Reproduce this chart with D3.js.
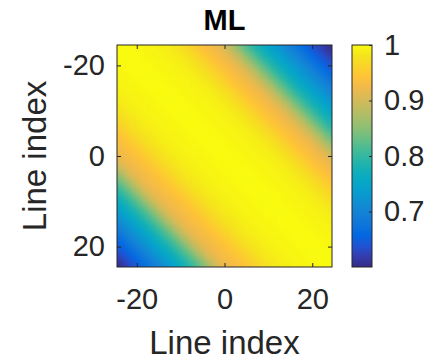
<!DOCTYPE html>
<html>
<head>
<meta charset="utf-8">
<script src="https://cdn.jsdelivr.net/npm/d3@7"></script>
<style>
	body { margin: 0; background: #fff; }
	text { font-family: "Liberation Sans", Arial, Helvetica, sans-serif; }
</style>
</head>
<body>
<svg id="svgContainer" width="426" height="360"></svg>
<script>
// line indices shown on both axes
var lines = d3.range(-24, 25),
	xTicks = [-20, 0, 20],
	yTicks = [-20, 0, 20],
	cTicks = [0.7, 0.8, 0.9, 1],
	cRange = [0.6, 1],
	// value per line offset (column - row)
	upperProfile = [1.000, 0.999, 0.999, 0.998, 0.997, 0.996, 0.995, 0.994, 0.993, 0.992,
		0.990, 0.988, 0.985, 0.981, 0.976, 0.970, 0.963, 0.955, 0.947, 0.940,
		0.934, 0.929, 0.923, 0.914, 0.902, 0.887, 0.870, 0.852, 0.834, 0.817,
		0.801, 0.787, 0.774, 0.761, 0.749, 0.738, 0.728, 0.717, 0.706, 0.695,
		0.684, 0.673, 0.662, 0.651, 0.641, 0.631, 0.621, 0.612, 0.604],
	lowerProfile = [1.000, 0.999, 0.999, 0.998, 0.997, 0.996, 0.995, 0.994, 0.993, 0.992,
		0.990, 0.988, 0.986, 0.983, 0.979, 0.974, 0.968, 0.961, 0.953, 0.946,
		0.940, 0.935, 0.931, 0.927, 0.921, 0.912, 0.899, 0.882, 0.862, 0.842,
		0.824, 0.808, 0.793, 0.779, 0.766, 0.753, 0.740, 0.728, 0.716, 0.704,
		0.692, 0.681, 0.670, 0.659, 0.648, 0.637, 0.626, 0.615, 0.604],
	// parula, every third entry of the 64 colour table
	parula = [[0.2081,0.1663,0.5292],[0.2081,0.2386,0.6771],[0.1253,0.3242,0.8303],
		[0.0060,0.4086,0.8828],[0.0498,0.4586,0.8641],[0.0779,0.5040,0.8384],
		[0.0641,0.5570,0.8240],[0.0265,0.6137,0.8135],[0.0228,0.6535,0.7768],
		[0.0590,0.6838,0.7254],[0.1453,0.7098,0.6646],[0.2586,0.7317,0.5954],
		[0.3953,0.7459,0.5244],[0.5300,0.7491,0.4661],[0.6473,0.7456,0.4188],
		[0.7525,0.7384,0.3768],[0.8507,0.7299,0.3360],[0.9450,0.7261,0.2886],
		[0.9990,0.7653,0.2164],[0.9789,0.8271,0.1633],[0.9589,0.8949,0.1132],
		[0.9763,0.9831,0.0538]];

var plot = {left: 117, right: 332, top: 45, bottom: 267},
	bar = {left: 352, right: 372},
	ink = "#262626",
	tickFont = 29,
	labelFont = 33;

var svg = d3.select("#svgContainer");

var x = d3.scaleLinear().domain([-24.5, 24.5]).range([plot.left, plot.right]),
	y = d3.scaleLinear().domain([-24.5, 24.5]).range([plot.top, plot.bottom]),
	cy = d3.scaleLinear().domain(cRange).range([plot.bottom, plot.top]),
	parulaColors = parula.map(function(p){ return d3.rgb(p[0]*255, p[1]*255, p[2]*255).formatHex(); }),
	color = d3.scaleSequential(d3.piecewise(d3.interpolateRgb, parulaColors)).domain(cRange);

function cellValue(row, col){
	var d = col - row;
	return d >= 0 ? upperProfile[d] : lowerProfile[-d];
}

var cells = [];
lines.forEach(function(row){
	lines.forEach(function(col){
		cells.push({row: row, col: col, value: cellValue(row, col)});
	});
});

var defs = svg.append("defs");

// soften the cell steps like the interpolated original
var filter = defs.append("filter")
	.attr("id", "smooth")
	.attr("filterUnits", "userSpaceOnUse")
	.attr("color-interpolation-filters", "sRGB")
	.attr("x", plot.left).attr("y", plot.top)
	.attr("width", plot.right - plot.left).attr("height", plot.bottom - plot.top);
filter.append("feGaussianBlur").attr("stdDeviation", 2.2);
filter.append("feComponentTransfer")
	.append("feFuncA").attr("type", "table").attr("tableValues", "1 1");

svg.append("g")
	.attr("filter", "url(#smooth)")
	.selectAll("rect")
	.data(cells)
	.enter().append("rect")
	.attr("x", function(d){ return x(d.col - 0.5); })
	.attr("y", function(d){ return y(d.row - 0.5); })
	.attr("width", x(0.5) - x(-0.5) + 0.6)
	.attr("height", y(0.5) - y(-0.5) + 0.6)
	.attr("fill", function(d){ return color(d.value); });

function styleAxis(g, size){
	g.select(".domain").remove();
	g.selectAll("line").attr("stroke", ink);
	g.selectAll("text").attr("fill", ink).style("font-size", size + "px");
}

svg.append("g")
	.attr("transform", "translate(0," + plot.bottom + ")")
	.call(d3.axisBottom(x).tickValues(xTicks).tickSize(-4).tickPadding(21).tickFormat(d3.format("d")))
	.call(styleAxis, tickFont);
svg.append("g")
	.attr("transform", "translate(0," + plot.top + ")")
	.call(d3.axisTop(x).tickValues(xTicks).tickSize(-4).tickFormat(""))
	.call(styleAxis, tickFont);
svg.append("g")
	.attr("transform", "translate(" + plot.left + ",0)")
	.call(d3.axisLeft(y).tickValues(yTicks).tickSize(-4).tickPadding(12).tickFormat(d3.format("d")))
	.call(styleAxis, tickFont);
svg.append("g")
	.attr("transform", "translate(" + plot.right + ",0)")
	.call(d3.axisRight(y).tickValues(yTicks).tickSize(-4).tickFormat(""))
	.call(styleAxis, tickFont);

// minus sign as in the original (plain hyphen)
svg.selectAll(".tick text").text(function(){ return d3.select(this).text().replace("\u2212", "-"); });

svg.append("rect")
	.attr("x", plot.left).attr("y", plot.top)
	.attr("width", plot.right - plot.left).attr("height", plot.bottom - plot.top)
	.attr("fill", "none").attr("stroke", ink).attr("stroke-width", 1);

// colorbar
var grad = defs.append("linearGradient")
	.attr("id", "parulaGrad")
	.attr("x1", 0).attr("y1", 1).attr("x2", 0).attr("y2", 0);
grad.selectAll("stop")
	.data(parulaColors)
	.enter().append("stop")
	.attr("offset", function(d, i){ return i / (parulaColors.length - 1); })
	.attr("stop-color", function(d){ return d; });

svg.append("rect")
	.attr("x", bar.left).attr("y", plot.top)
	.attr("width", bar.right - bar.left).attr("height", plot.bottom - plot.top)
	.attr("fill", "url(#parulaGrad)")
	.attr("stroke", ink).attr("stroke-width", 1);

svg.append("g")
	.attr("transform", "translate(" + bar.right + ",0)")
	.call(d3.axisRight(cy).tickValues(cTicks).tickSize(-3).tickPadding(12).tickFormat(d3.format("")))
	.call(styleAxis, tickFont);

// labels
svg.append("text")
	.attr("x", (plot.left + plot.right) / 2).attr("y", 30)
	.attr("text-anchor", "middle")
	.style("font-size", "29px").style("font-weight", "bold")
	.attr("fill", "#000")
	.text("ML");

svg.append("text")
	.attr("x", (plot.left + plot.right) / 2).attr("y", 354)
	.attr("text-anchor", "middle")
	.style("font-size", labelFont + "px")
	.attr("fill", ink)
	.text("Line index");

svg.append("text")
	.attr("transform", "translate(46," + (plot.top + plot.bottom) / 2 + ") rotate(-90)")
	.attr("text-anchor", "middle")
	.style("font-size", labelFont + "px")
	.attr("fill", ink)
	.text("Line index");
</script>
</body>
</html>
